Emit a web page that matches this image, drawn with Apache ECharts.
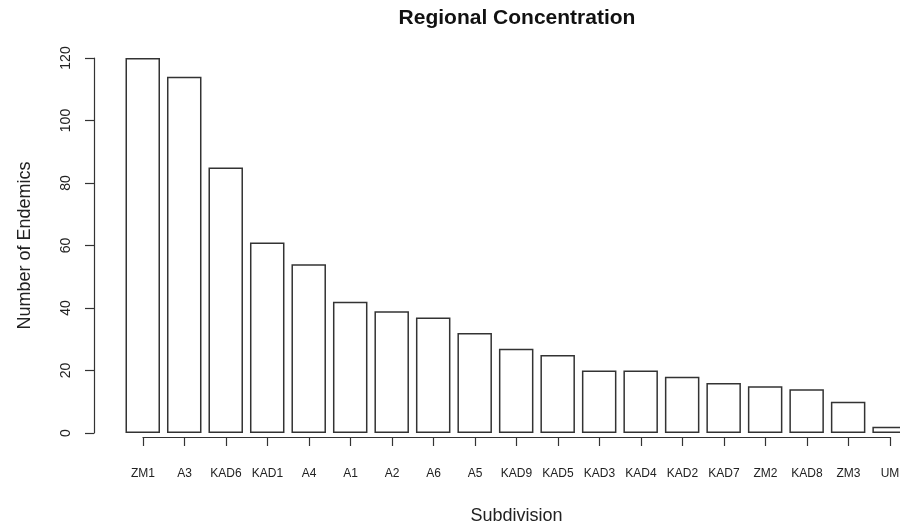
<!DOCTYPE html>
<html>
<head>
<meta charset="utf-8">
<script src="https://cdn.jsdelivr.net/npm/echarts@6/dist/echarts.min.js"></script>
<style>
html,body{margin:0;padding:0;background:#fff;}
#chart{width:900px;height:525px;}
</style>
</head>
<body>
<div id="chart"></div>
<script>
var categories = ['ZM1','A3','KAD6','KAD1','A4','A1','A2','A6','A5','KAD9','KAD5','KAD3','KAD4','KAD2','KAD7','ZM2','KAD8','ZM3','UM'];
var endemics = [120,114,85,61,54,42,39,37,32,27,25,20,20,18,16,15,14,10,2];
var yTicks = [0,20,40,60,80,100,120];

var FONT = '"Liberation Sans", Arial, Helvetica, sans-serif';
var INK = '#333';
var barData = categories.map(function (c, i) { return [i, endemics[i]]; });
var hidden = {show: false, axisLine: {show: false}, axisTick: {show: false}, axisLabel: {show: false}, splitLine: {show: false}};

var chart = echarts.init(document.getElementById('chart'));
chart.setOption({
  backgroundColor: '#fff',
  animation: false,
  title: {
    text: 'Regional Concentration',
    left: 512, top: 3, textAlign: 'center',
    textStyle: {fontFamily: FONT, fontSize: 21, fontWeight: 'bold', color: '#111'}
  },
  grid: [
    {left: 122, top: 58, width: 778, height: 375, containLabel: false, outerBoundsMode: 'none'},
    {left: 143, top: 58, width: 747, height: 379, containLabel: false, outerBoundsMode: 'none'}
  ],
  xAxis: [
    Object.assign({type: 'value', gridIndex: 0, min: -0.5, max: categories.length - 0.75}, hidden),
    {type: 'category', gridIndex: 1, data: categories, boundaryGap: false, position: 'bottom',
     axisLine: {onZero: false, lineStyle: {color: INK, width: 1.2}},
     axisTick: {length: 9, lineStyle: {color: INK, width: 1.2}},
     axisLabel: {interval: 0, margin: 31, fontFamily: FONT, fontSize: 12, color: '#222'},
     name: 'Subdivision', nameLocation: 'middle', nameGap: 70,
     nameTextStyle: {fontFamily: FONT, fontSize: 18, color: '#222'}
    }
  ],
  yAxis: [
    {type: 'value', gridIndex: 0, min: yTicks[0], max: yTicks[yTicks.length-1], interval: 20,
     offset: 28,
     splitLine: {show: false},
     axisLine: {show: true, onZero: false, lineStyle: {color: INK, width: 1.2}},
     axisTick: {show: true, length: 9, lineStyle: {color: INK, width: 1.2}},
     axisLabel: {rotate: 90, margin: 21, fontFamily: FONT, fontSize: 14, color: '#222'},
     name: 'Number of Endemics', nameLocation: 'middle', nameRotate: 90, nameGap: 60,
     nameTextStyle: {fontFamily: FONT, fontSize: 18, color: '#222'}
    },
    Object.assign({type: 'value', gridIndex: 1, min: 0, max: 1}, hidden)
  ],
  series: [{
    type: 'bar', xAxisIndex: 0, yAxisIndex: 0,
    data: barData, barWidth: 34.5,
    itemStyle: {color: '#fff', borderColor: INK, borderWidth: 1.5}
  }]
});
</script>
</body>
</html>
